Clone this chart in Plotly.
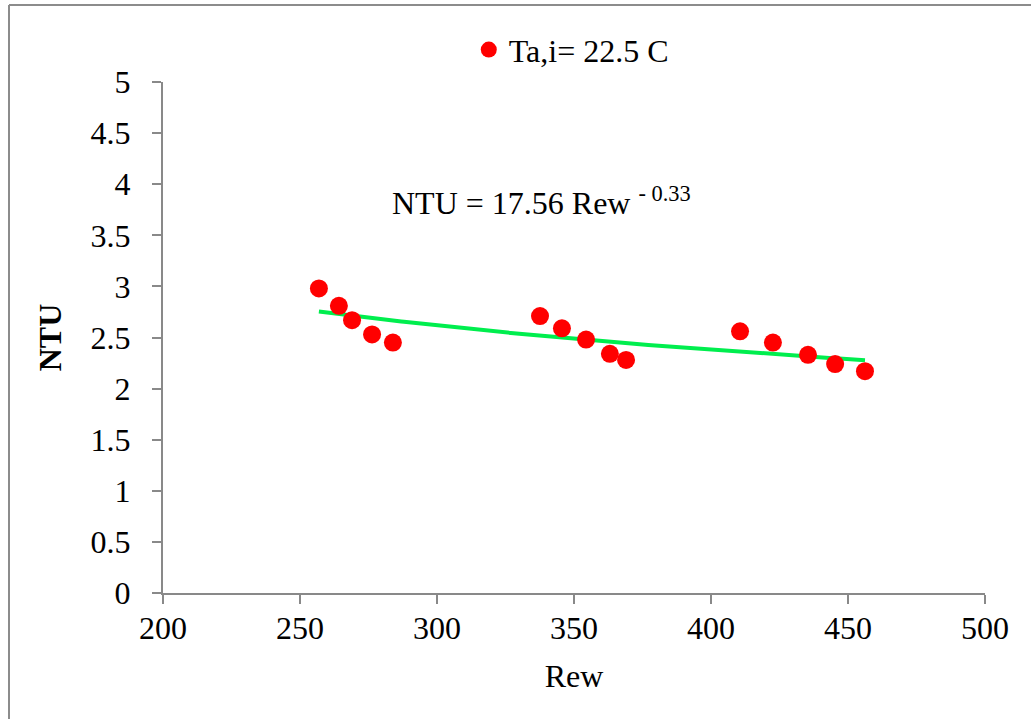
import numpy as np
import plotly.graph_objects as go

rew = [256.9, 264.2, 269.0, 276.3, 283.9, 337.6, 345.6, 354.4, 363.1, 369.0,
       410.6, 422.6, 435.4, 445.3, 456.2]
ntu = [2.98, 2.81, 2.67, 2.53, 2.45, 2.71, 2.59, 2.48, 2.34, 2.28,
       2.56, 2.45, 2.33, 2.24, 2.17]
series_name = "Ta,i= 22.5 C"
equation = "NTU = 17.56 Rew <sup>- 0.33</sup>"

# power-law trendline fitted in log space (as Excel does)
b, lna = np.polyfit(np.log(rew), np.log(ntu), 1)
xt = np.linspace(min(rew), max(rew), 200)
yt = np.exp(lna) * xt ** b

FONT = "Liberation Serif, Times New Roman, serif"
AX = "#898989"
FS = 32

fig = go.Figure()
fig.add_trace(go.Scatter(x=xt, y=yt, mode="lines", line=dict(color="#00EE4E", width=4),
                         showlegend=False, hoverinfo="skip"))
fig.add_trace(go.Scatter(x=rew, y=ntu, mode="markers", name=series_name,
                         marker=dict(color="#FF0000", size=18)))

fig.update_layout(
    width=1031, height=719,
    margin=dict(l=163, r=46, t=82, b=126),
    paper_bgcolor="white", plot_bgcolor="white",
    font=dict(family=FONT, size=FS, color="black"),
    showlegend=True,
    legend=dict(x=0.372, y=1.063, xanchor="left", yanchor="middle",
                font=dict(family=FONT, size=FS), bgcolor="rgba(0,0,0,0)",
                itemwidth=30, tracegroupgap=0),
    xaxis=dict(range=[200, 500], dtick=50, tick0=200, showgrid=False, zeroline=False,
               showline=True, linecolor=AX, linewidth=2,
               ticks="outside", ticklen=9, tickcolor=AX, tickwidth=2,
               ticklabelstandoff=-3,
               tickfont=dict(family=FONT, size=FS),
               title=dict(text="Rew", font=dict(family=FONT, size=FS), standoff=19)),
    yaxis=dict(range=[0, 5], dtick=0.5, tick0=0, showgrid=False, zeroline=False,
               showline=True, linecolor=AX, linewidth=2,
               ticks="outside", ticklen=9, tickcolor=AX, tickwidth=2,
               ticklabelstandoff=15,
               tickfont=dict(family=FONT, size=FS),
               title=dict(text="<b>NTU</b>", font=dict(family=FONT, size=FS), standoff=19)),
    annotations=[dict(text=equation, x=338.3, y=3.84, xref="x", yref="y", showarrow=False,
                      font=dict(family=FONT, size=FS), xanchor="center", yanchor="middle")],
    shapes=[
        dict(type="line", xref="paper", yref="paper",
             x0=(9 - 163) / 822, x1=(1031 - 163) / 822,
             y0=(593 - 5) / 511, y1=(593 - 5) / 511,
             line=dict(color="#8C8C8C", width=2)),
        dict(type="line", xref="paper", yref="paper",
             x0=(9 - 163) / 822, x1=(9 - 163) / 822,
             y0=(593 - 5) / 511, y1=(593 - 719) / 511,
             line=dict(color="#8C8C8C", width=2)),
    ],
)

fig.write_html("out.html", config={"displayModeBar": False},
               post_script="document.body.style.margin='0';")
